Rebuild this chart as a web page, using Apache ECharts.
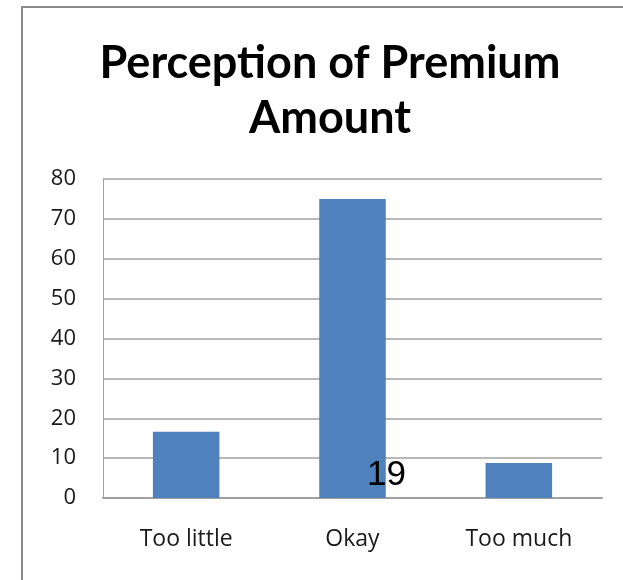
<!DOCTYPE html>
<html>
<head>
<meta charset="utf-8">
<script src="https://cdn.jsdelivr.net/npm/echarts@6/dist/echarts.min.js"></script>
<style>
  html, body { margin: 0; padding: 0; background: #fff; }
  #chart { width: 623px; height: 580px; }
</style>
</head>
<body>
<div id="chart"></div>
<script>
// Survey responses on how the premium amount is perceived
const categories = ['Too little', 'Okay', 'Too much'];
const responses = [16.6, 75, 8.8];
const yTicks = { min: 0, max: 80, step: 10 };
const titleText = 'Perception of Premium\nAmount';
const pageNumber = '19';

const chart = echarts.init(document.getElementById('chart'), null, { renderer: 'canvas' });

chart.setOption({
  backgroundColor: '#ffffff',
  animation: false,
  title: {
    text: titleText,
    left: 325,
    top: 31,
    textAlign: 'center',
    textStyle: {
      fontFamily: 'Lato',
      fontWeight: 'bold',
      fontSize: 45,
      lineHeight: 55,
      color: '#000000'
    }
  },
  grid: { left: 103, right: 21, top: 179, bottom: 82 },
  xAxis: {
    type: 'category',
    data: categories,
    axisLine: { lineStyle: { color: '#a0a0a0', width: 2 } },
    axisTick: { show: false },
    axisLabel: {
      margin: 30,
      fontFamily: 'Open Sans',
      fontSize: 23,
      color: '#1a1a1a'
    }
  },
  yAxis: {
    type: 'value',
    min: yTicks.min,
    max: yTicks.max,
    interval: yTicks.step,
    axisLine: { show: true, lineStyle: { color: '#a0a0a0', width: 1 } },
    axisTick: { show: false },
    splitLine: { lineStyle: { color: '#a0a0a0', width: 1.5 } },
    axisLabel: {
      margin: 27,
      fontFamily: 'Open Sans',
      fontSize: 22,
      color: '#1a1a1a'
    }
  },
  series: [{
    type: 'bar',
    data: responses,
    barWidth: '40%',
    itemStyle: { color: '#4f81bd' }
  }],
  graphic: [
    // frame lines along the top and left edge
    { type: 'line', shape: { x1: 21, y1: 7, x2: 623, y2: 7 }, style: { stroke: '#8a8a8a', lineWidth: 2 } },
    { type: 'line', shape: { x1: 22, y1: 6, x2: 22, y2: 580 }, style: { stroke: '#8a8a8a', lineWidth: 2 } },
    {
      type: 'text',
      left: 367,
      top: 458,
      z: 10,
      style: {
        text: pageNumber,
        fontFamily: 'Liberation Sans',
        fontSize: 35,
        fill: '#000000'
      }
    }
  ]
});
</script>
</body>
</html>
